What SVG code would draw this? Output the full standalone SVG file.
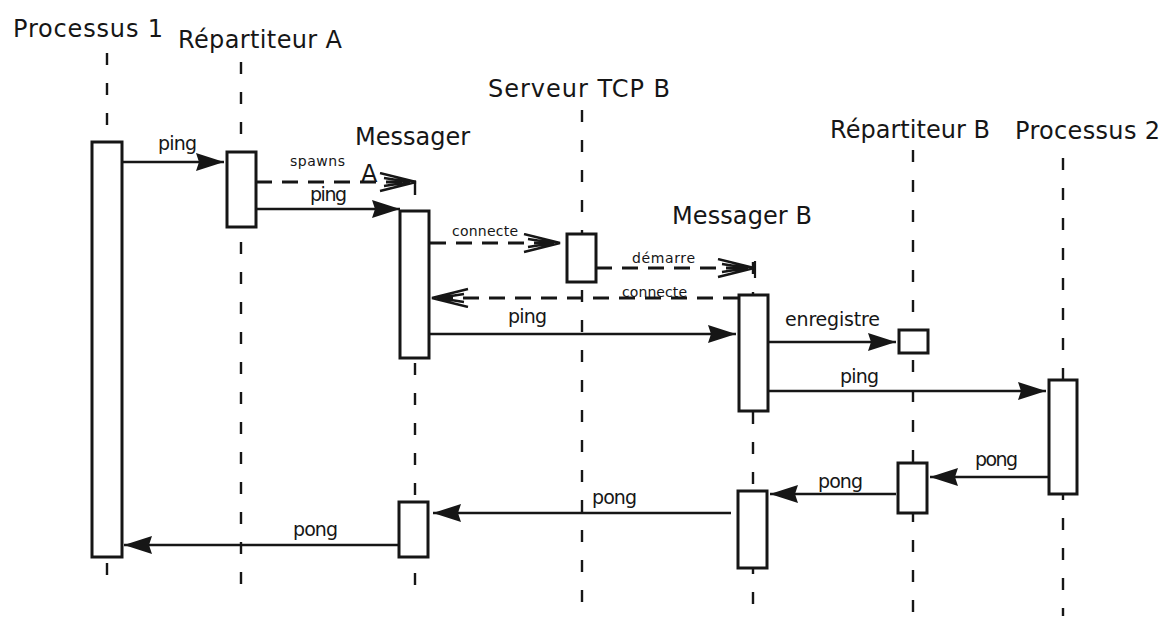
<svg xmlns="http://www.w3.org/2000/svg" width="1167" height="618" viewBox="0 0 1167 618">
<style>
.t{font-family:"DejaVu Sans","Liberation Sans",sans-serif;font-size:24px;fill:#161616}
.m{font-family:"DejaVu Sans","Liberation Sans",sans-serif;font-size:19px;fill:#161616}
.s{font-family:"DejaVu Sans","Liberation Sans",sans-serif;font-size:14px;fill:#161616}
.life{stroke:#161616;stroke-width:2.4;stroke-dasharray:12 18;fill:none}
.box{fill:#fff;stroke:#161616;stroke-width:3}
.msg{stroke:#161616;stroke-width:2.7;fill:none;marker-end:url(#fill)}
.dmsg{stroke:#161616;stroke-width:2.8;fill:none;stroke-dasharray:16 10;marker-end:url(#open)}
</style>
<defs>
<marker id="fill" markerUnits="userSpaceOnUse" markerWidth="32" markerHeight="22" refX="28" refY="9" orient="auto">
<path d="M0,0 L28,9 L0,18 L3,9 z" fill="#161616"/>
</marker>
<marker id="open" markerUnits="userSpaceOnUse" markerWidth="42" markerHeight="22" refX="38" refY="10" orient="auto">
<path d="M2,1 L38,10 L2,19 M6,6 L32,10 L6,14" fill="none" stroke="#161616" stroke-width="2.4"/>
</marker>
</defs>
<g id="lifelines">
<line class="life" x1="107" y1="53" x2="107" y2="585"/>
<line class="life" x1="241" y1="62" x2="241" y2="595"/>
<line class="life" x1="415" y1="183" x2="415" y2="602"/>
<line class="life" x1="582" y1="110" x2="582" y2="606"/>
<line class="life" x1="753" y1="262" x2="753" y2="606"/>
<line class="life" x1="913" y1="150" x2="913" y2="612"/>
<line class="life" x1="1063" y1="158" x2="1063" y2="616"/>
</g>
<g id="processus1">
<text class="t" x="13" y="37" textLength="150">Processus 1</text>
<rect class="box" x="92" y="142" width="30" height="415"/>
</g>
<g id="repartiteurA">
<text class="t" x="178" y="48" textLength="164">Répartiteur A</text>
<rect class="box" x="227" y="152" width="29" height="75"/>
</g>
<g id="messagerA">
<text class="t" x="355" y="145" textLength="115">Messager</text>
<text class="t" x="361" y="182">A</text>
<rect class="box" x="400" y="211" width="29" height="147"/>
<rect class="box" x="399" y="502" width="29" height="55"/>
</g>
<g id="serveurTCPB">
<text class="t" x="488" y="97" textLength="182">Serveur TCP B</text>
<rect class="box" x="567" y="234" width="29" height="48"/>
</g>
<g id="messagerB">
<text class="t" x="672" y="224" textLength="140">Messager B</text>
<rect class="box" x="739" y="295" width="29" height="116"/>
<rect class="box" x="738" y="491" width="29" height="77"/>
</g>
<g id="repartiteurB">
<text class="t" x="830" y="138" textLength="160">Répartiteur B</text>
<rect class="box" x="899" y="330" width="29" height="23"/>
<rect class="box" x="898" y="463" width="29" height="50"/>
</g>
<g id="processus2">
<text class="t" x="1015" y="139" textLength="145">Processus 2</text>
<rect class="box" x="1049" y="380" width="28" height="114"/>
</g>
<g id="connectors">
<path class="msg" d="M122,162 H224"/>
<text class="m" x="158" y="150" textLength="39">ping</text>
<path class="dmsg" d="M256,182 H416"/>
<text class="s" x="290" y="166" textLength="55">spawns</text>
<path class="msg" d="M256,209 H400"/>
<text class="m" x="310" y="201" textLength="37">ping</text>
<path class="dmsg" d="M430,243 H560"/>
<text class="s" x="452" y="236" textLength="66">connecte</text>
<path class="dmsg" d="M596,268 H754"/>
<line x1="755" y1="261" x2="755" y2="278" stroke="#161616" stroke-width="2.2"/>
<text class="s" x="632" y="263" textLength="63">démarre</text>
<path class="dmsg" d="M739,298 H432"/>
<text class="s" x="622" y="297" textLength="65">connecte</text>
<path class="msg" d="M430,334 H736"/>
<text class="m" x="508" y="323" textLength="39">ping</text>
<path class="msg" d="M768,342 H896"/>
<text class="m" x="785" y="326" textLength="95">enregistre</text>
<path class="msg" d="M768,391 H1046"/>
<text class="m" x="840" y="383" textLength="39">ping</text>
<path class="msg" d="M1049,477 H930"/>
<text class="m" x="975" y="466" textLength="43">pong</text>
<path class="msg" d="M896,494 H770"/>
<text class="m" x="818" y="488" textLength="45">pong</text>
<path class="msg" d="M731,513 H433"/>
<text class="m" x="592" y="504" textLength="45">pong</text>
<path class="msg" d="M399,545 H124"/>
<text class="m" x="293" y="536" textLength="45">pong</text>
</g>
</svg>
